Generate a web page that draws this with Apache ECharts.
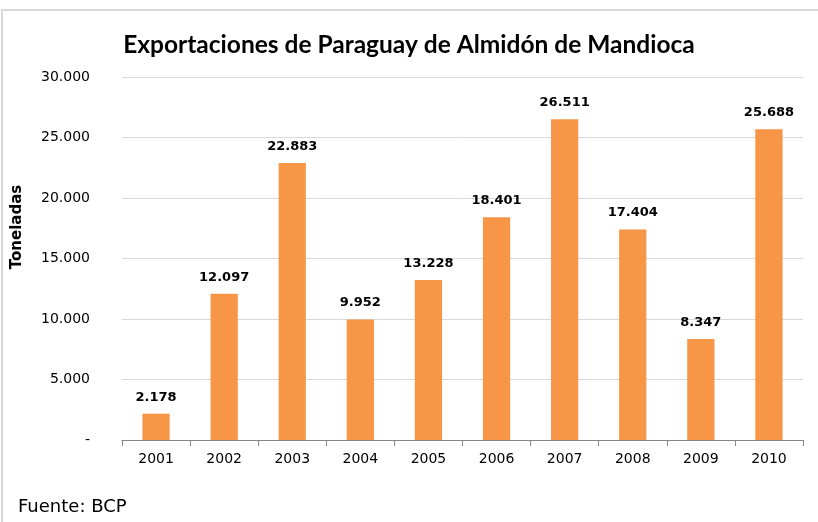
<!DOCTYPE html>
<html>
<head>
<meta charset="utf-8">
<script src="https://cdn.jsdelivr.net/npm/echarts@6/dist/echarts.min.js"></script>
<style>
  html, body { margin: 0; padding: 0; background: #fff; }
  #chart { width: 818px; height: 522px; }
</style>
</head>
<body>
<div id="chart"></div>
<script>
// datos
var years = ['2001', '2002', '2003', '2004', '2005', '2006', '2007', '2008', '2009', '2010'];
var toneladas = [2178, 12097, 22883, 9952, 13228, 18401, 26511, 17404, 8347, 25688];

function miles(v) {
  if (v === 0) return '-';
  return String(v).replace(/\B(?=(\d{3})+(?!\d))/g, '.');
}

var myChart = echarts.init(document.getElementById('chart'));
var option = {
  backgroundColor: '#fff',
  title: [{
    text: 'Exportaciones de Paraguay de Almidón de Mandioca',
    left: 'center',
    top: 28,
    textStyle: { fontFamily: 'Lato', fontSize: 24.5, fontWeight: 'bold', color: '#000' }
  }, {
    text: 'Fuente: BCP',
    left: 13,
    top: 493,
    textStyle: { fontFamily: 'DejaVu Sans', fontSize: 18, fontWeight: 'normal', color: '#000' }
  }],
  graphic: [{
    type: 'rect',
    shape: { x: 2, y: 10, width: 840, height: 540 },
    style: { fill: 'none', stroke: '#d9d9d9', lineWidth: 2 },
    silent: true
  }, {
    // titulo del eje, algo por encima del centro como en el original
    type: 'text',
    x: 17,
    y: 227,
    rotation: Math.PI / 2,
    style: {
      text: 'Toneladas',
      fontFamily: 'DejaVu Sans',
      fontSize: 15,
      fontWeight: 'bold',
      fill: '#000',
      align: 'center',
      verticalAlign: 'middle'
    },
    silent: true
  }],
  grid: { left: 122, right: 15, top: 77, bottom: 82 },
  xAxis: {
    type: 'category',
    data: years,
    axisLine: { lineStyle: { color: '#868686' } },
    axisTick: { show: true, length: 6, lineStyle: { color: '#868686' } },
    axisLabel: { color: '#000', fontFamily: 'DejaVu Sans', fontSize: 14, margin: 12 }
  },
  yAxis: {
    type: 'value',
    min: 0,
    max: 30000,
    interval: 5000,
    axisLine: { show: false },
    axisTick: { show: false },
    splitLine: { lineStyle: { color: '#d9d9d9' } },
    axisLabel: {
      color: '#000', fontFamily: 'DejaVu Sans', fontSize: 14, margin: 32,
      formatter: miles
    }
  },
  series: [{
    type: 'bar',
    data: toneladas,
    barWidth: '40%',
    itemStyle: { color: '#F79646' },
    label: {
      show: true,
      position: 'top',
      distance: 10,
      fontFamily: 'DejaVu Sans',
      fontSize: 13,
      fontWeight: 'bold',
      color: '#000',
      formatter: function (p) { return miles(p.value); }
    }
  }]
};
myChart.setOption(option);
</script>
</body>
</html>
